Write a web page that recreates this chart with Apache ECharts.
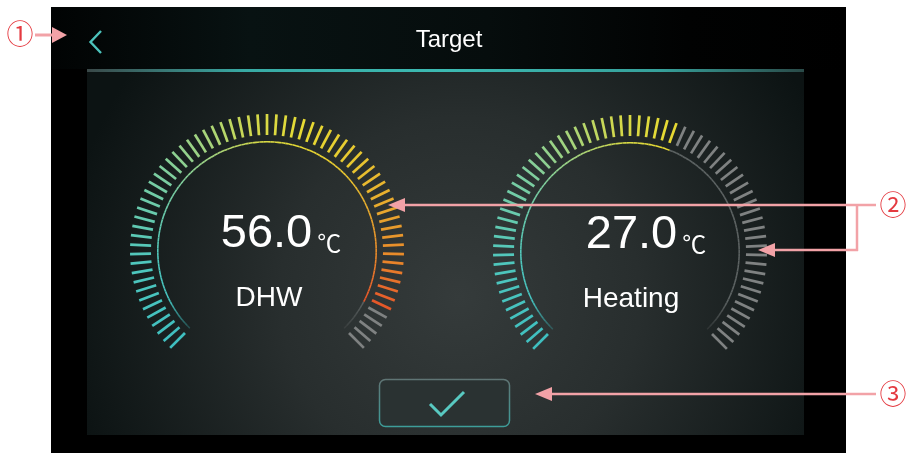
<!DOCTYPE html>
<html><head><meta charset="utf-8">
<script src="https://cdn.jsdelivr.net/npm/echarts@6/dist/echarts.min.js"></script>
<style>html,body{margin:0;padding:0;background:#fff}#c{width:910px;height:453px}</style>
</head><body><div id="c"></div>
<script>
// ---- data ----
const gaugeNames = ['DHW', 'Heating'];
const gaugeValues = [56.0, 27.0];
const gaugeMins = [0, 5];
const gaugeMaxs = [60, 43];
const unitLabel = '℃';
const titleText = 'Target';
const annotationLabels = ['①', '②', '③'];

// ---- styles ----
const FONT = '"Liberation Sans", Arial, "Noto Sans CJK SC", sans-serif';
const N = 68; // tick intervals
const centers = [[267, 251], [630, 252]];
const detailOffsets = [[14, -17], [16, -17]];
const titleOffsets = [[2, 47], [1, 47]];
const gradStops = [
  [0.00, '#3fbfc0'], [0.15, '#4fc7bd'], [0.30, '#7ccda0'], [0.40, '#a8d47a'],
  [0.48, '#d4d94a'], [0.56, '#e6da34'], [0.66, '#e8c830'], [0.76, '#e8a82e'],
  [0.84, '#e88a2a'], [0.90, '#e8682c'], [0.95, '#e24a27'], [1.00, '#d83a22']
];
const tickGray = '#7f8282';
const arcGray = '#5c6262';
const PINK = '#f2a2a7', RED = '#e43a40';

function hex(c){return [parseInt(c.slice(1,3),16),parseInt(c.slice(3,5),16),parseInt(c.slice(5,7),16)];}
function gradAt(p){
  for (let i=1;i<gradStops.length;i++){
    if (p<=gradStops[i][0]){
      const a=gradStops[i-1], b=gradStops[i];
      const t=(p-a[0])/(b[0]-a[0]);
      const ca=hex(a[1]), cb=hex(b[1]);
      return ca.map((v,k)=>Math.round(v+(cb[k]-v)*t));
    }
  }
  return hex(gradStops[gradStops.length-1][1]);
}
function rgba(c,a){return 'rgba('+c[0]+','+c[1]+','+c[2]+','+a+')';}

function tickColors(pct){
  const arr=[];
  for(let k=0;k<=N;k++){
    const p=k/N;
    const stop = k===N ? 1 : (k+0.5)/N;
    arr.push([stop, p<=pct+1e-9 ? rgba(gradAt(p),1) : tickGray]);
  }
  return arr;
}
function arcColors(pct){
  const M=140, arr=[];
  for(let k=0;k<M;k++){
    const p=(k+0.5)/M;
    let a=1;
    if(p<0.07) a=0.25+0.75*(p/0.07);
    if(p>0.93) a=0.25+0.75*((1-p)/0.07);
    const c = p<=pct ? gradAt(p) : hex(arcGray);
    arr.push([(k+1)/M, rgba(c,a)]);
  }
  return arr;
}

const series=[];
gaugeNames.forEach((name,i)=>{
  const pct=(gaugeValues[i]-gaugeMins[i])/(gaugeMaxs[i]-gaugeMins[i]);
  const common={type:'gauge', center:centers[i], startAngle:225, endAngle:-45,
    min:gaugeMins[i], max:gaugeMaxs[i], splitNumber:N,
    axisTick:{show:false}, axisLabel:{show:false}, pointer:{show:false},
    anchor:{show:false}, progress:{show:false}, silent:true, animation:false};
  series.push(Object.assign({}, common, {
    radius:137,
    axisLine:{show:false, lineStyle:{width:0, color:tickColors(pct)}},
    splitLine:{show:true, length:21, distance:0, lineStyle:{color:'auto', width:2.7, cap:'butt'}},
    title:{show:false}, detail:{show:false},
    data:[{value:gaugeValues[i]}]
  }));
  series.push(Object.assign({}, common, {
    radius:110,
    axisLine:{show:true, roundCap:false, lineStyle:{width:1.6, color:arcColors(pct)}},
    splitLine:{show:false},
    title:{show:true, offsetCenter:titleOffsets[i], color:'#ffffff', fontSize:28, fontWeight:'normal', fontFamily:FONT},
    detail:{show:true, offsetCenter:detailOffsets[i], valueAnimation:false, fontWeight:'normal',
      formatter:v=>'{v|'+v.toFixed(1)+'}{u|'+unitLabel+'}',
      rich:{
        v:{fontSize:47, lineHeight:47, fontWeight:'normal', color:'#ffffff', fontFamily:FONT},
        u:{fontSize:24, lineHeight:31, fontWeight:'normal', verticalAlign:'bottom', color:'#ffffff', fontFamily:FONT, padding:[0,0,0,5]}
      }},
    data:[{value:gaugeValues[i], name:name}]
  }));
});

const graphic=[
  {type:'rect', z:-10, shape:{x:51,y:7,width:795,height:446}, style:{fill:'#000'}},
  {type:'rect', z:-9, shape:{x:51,y:7,width:795,height:62}, style:{fill:{type:'linear',x:0,y:0,x2:1,y2:0,colorStops:[
    {offset:0,color:'#010303'},{offset:0.25,color:'#081212'},{offset:0.55,color:'#060d0d'},{offset:0.8,color:'#010202'},{offset:1,color:'#000'}]}}},
  {type:'rect', z:-8, shape:{x:87,y:72,width:717,height:363}, style:{fill:{type:'radial',x:0.52,y:0.62,r:1.1,colorStops:[
    {offset:0,color:'#353b3b'},{offset:0.45,color:'#282e2e'},{offset:1,color:'#0c1313'}]}}},
  {type:'rect', z:-7, shape:{x:87,y:69,width:717,height:3}, style:{fill:{type:'linear',x:0,y:0,x2:1,y2:0,colorStops:[
    {offset:0,color:'#3a4848'},{offset:0.22,color:'#38aaa4'},{offset:0.5,color:'#3cbab2'},{offset:0.8,color:'#36a09a'},{offset:1,color:'#2a4a48'}]}}},
  {type:'polyline', z:5, shape:{points:[[101,31],[90.5,42],[101,53]]}, style:{stroke:'#4cc3bc', lineWidth:2.4, fill:null}},
  {type:'text', z:5, x:449, y:40, style:{text:titleText, fill:'#ffffff', fontSize:24, fontFamily:FONT, align:'center', verticalAlign:'middle', textAlign:'center', textVerticalAlign:'middle'}},
  {type:'rect', z:5, shape:{x:379.5,y:379.5,width:130,height:47,r:6}, style:{fill:'#2a3232', stroke:{type:'linear',x:0,y:0,x2:0,y2:1,colorStops:[{offset:0,color:'#607474'},{offset:1,color:'#3d9e9a'}]}, lineWidth:1.5}},
  {type:'polyline', z:6, shape:{points:[[430,404],[441,415],[464,392]]}, style:{stroke:'#58c9c1', lineWidth:3, fill:null}},
  // annotations
  {type:'text', z:100, x:20, y:34, style:{text:annotationLabels[0], fill:RED, fontSize:27, fontFamily:'"Noto Sans CJK JP"', align:'center', verticalAlign:'middle', textAlign:'center', textVerticalAlign:'middle'}},
  {type:'line', z:100, shape:{x1:35,y1:35,x2:55,y2:35}, style:{stroke:PINK, lineWidth:3}},
  {type:'polygon', z:100, shape:{points:[[67,35],[52,27],[52,43]]}, style:{fill:PINK}},
  {type:'text', z:100, x:893, y:205, style:{text:annotationLabels[1], fill:RED, fontSize:27, fontFamily:'"Noto Sans CJK JP"', align:'center', verticalAlign:'middle', textAlign:'center', textVerticalAlign:'middle'}},
  {type:'line', z:100, shape:{x1:402,y1:205,x2:876,y2:205}, style:{stroke:PINK, lineWidth:2.5}},
  {type:'polygon', z:100, shape:{points:[[388,205],[405,198],[405,212]]}, style:{fill:PINK}},
  {type:'line', z:100, shape:{x1:857,y1:205,x2:857,y2:251}, style:{stroke:PINK, lineWidth:2.5}},
  {type:'line', z:100, shape:{x1:770,y1:250,x2:858,y2:250}, style:{stroke:PINK, lineWidth:2.5}},
  {type:'polygon', z:100, shape:{points:[[758,250],[775,243],[775,257]]}, style:{fill:PINK}},
  {type:'text', z:100, x:893, y:394, style:{text:annotationLabels[2], fill:RED, fontSize:27, fontFamily:'"Noto Sans CJK JP"', align:'center', verticalAlign:'middle', textAlign:'center', textVerticalAlign:'middle'}},
  {type:'line', z:100, shape:{x1:548,y1:394,x2:876,y2:394}, style:{stroke:PINK, lineWidth:2.5}},
  {type:'polygon', z:100, shape:{points:[[535,394],[552,387],[552,401]]}, style:{fill:PINK}}
];

const chart=echarts.init(document.getElementById('c'), null, {renderer:'canvas'});
chart.setOption({backgroundColor:'#ffffff', animation:false, series, graphic});
</script></body></html>
